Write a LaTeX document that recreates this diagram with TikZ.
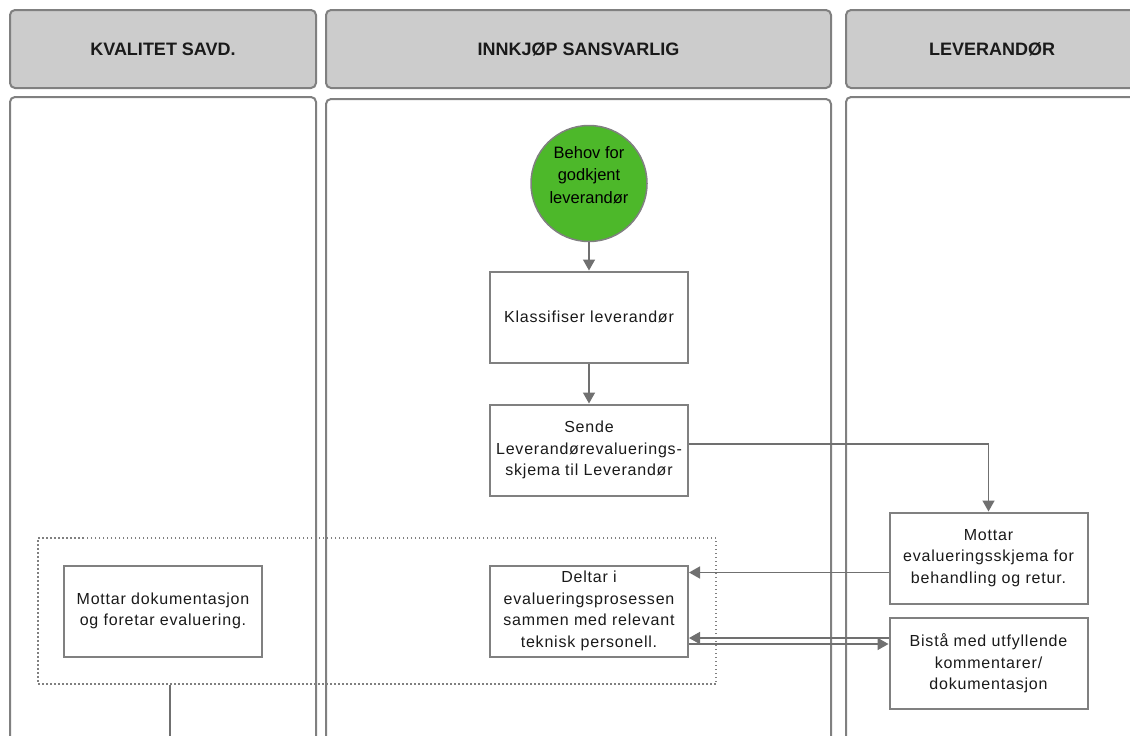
\documentclass[tikz,border=0pt]{standalone}
\usepackage{fontspec}
\setmainfont{Liberation Sans}
\newfontfamily\bodyfont{Liberation Sans}[LetterSpace=5]
\newfontfamily\headfont{Liberation Sans}[LetterSpace=0]
\usetikzlibrary{arrows.meta}
\definecolor{lanegray}{HTML}{808080}
\definecolor{headfill}{HTML}{CCCCCC}
\definecolor{startgreen}{HTML}{4DB82A}
\definecolor{connc}{HTML}{707070}
\definecolor{txt}{HTML}{1A1A1A}
\begin{document}
\begin{tikzpicture}[x=1pt,y=-1pt,
  header/.style={draw=lanegray, fill=headfill, line width=2pt, rounded corners=5pt,
    font=\headfont\fontsize{18}{21}\selectfont\bfseries, text=txt, inner sep=0pt, minimum height=78pt},
  lanebody/.style={draw=lanegray, line width=2pt, rounded corners=5pt, fill=white},
  procbox/.style={draw=lanegray, line width=2pt, fill=white, minimum width=198pt, minimum height=91pt,
    align=center, font=\bodyfont\fontsize{16}{21.5}\selectfont, text=txt, inner sep=2pt},
  startnode/.style={circle, draw=lanegray, line width=1.5pt, fill=startgreen, minimum size=116pt, inner sep=0pt},
  starttext/.style={align=center, font=\headfont\fontsize{16.5}{22.5}\selectfont, text=black, inner sep=0pt},
  conn/.style={draw=connc, line width=1.5pt, -{Triangle[length=11pt,width=12pt]}},
  plainconn/.style={draw=connc, line width=1.5pt},
  grouprect/.style={draw=lanegray, line width=1.5pt, dash pattern=on 1.5pt off 2.5pt, inner sep=0pt}
]
\useasboundingbox (0,0) rectangle (1130,736);
\clip (0,0) rectangle (1130,736);

% lane headers
\node[header, minimum width=306pt] (h1) at (163,49) {KVALITET SAVD.};
\node[header, minimum width=505pt] (h2) at (578.5,49) {INNKJØP SANSVARLIG};
\node[header, minimum width=292pt] (h3) at (992,49) {LEVERANDØR};

% lane bodies
\draw[lanebody] (10,97) rectangle (316,800);
\draw[lanebody] (326,99) rectangle (831,800);
\draw[lanebody] (846,97) rectangle (1138,800);

% group frame
\node[grouprect, minimum width=678pt, minimum height=146pt] (group) at (377,611) {};

% start
\node[startnode] (start) at (589,183.5) {};
\node[starttext] (startlbl) at (589,175) {Behov for\\godkjent\\leverandør};

% process boxes
\node[procbox] (klass) at (589,317) {Klassifiser leverandør};
\node[procbox] (sende) at (589,450) {Sende\\Leverandørevaluerings-\\skjema til Leverandør};
\node[procbox] (mottar) at (988.5,558) {Mottar\\evalueringsskjema for\\behandling og retur.};
\node[procbox] (bista) at (988.5,663.5) {Bistå med utfyllende\\kommentarer/\\dokumentasjon};
\node[procbox] (deltar) at (589,611) {Deltar i\\evalueringsprosessen\\sammen med relevant\\teknisk personell.};
\node[procbox] (mdok) at (163,611) {Mottar dokumentasjon\\og foretar evaluering.};

% connectors
\draw[conn] (start.south) -- (klass.north);
\draw[conn] (klass.south) -- (sende.north);
\draw[conn] ([yshift=6pt]sende.east) -| (mottar.north);
\draw[conn] ([yshift=-14.5pt]mottar.west) -- ([yshift=-14.5pt]mottar.west -| deltar.east);
\draw[conn] ([yshift=25.5pt]bista.west) -- ([yshift=25.5pt]bista.west -| deltar.east);
\draw[conn] ([yshift=-33pt]deltar.east) -- ([yshift=-33pt]deltar.east -| bista.west);
\coordinate (groupout) at (170,745);
\draw[plainconn] (group.south -| groupout) -- (groupout);
\end{tikzpicture}
\end{document}
